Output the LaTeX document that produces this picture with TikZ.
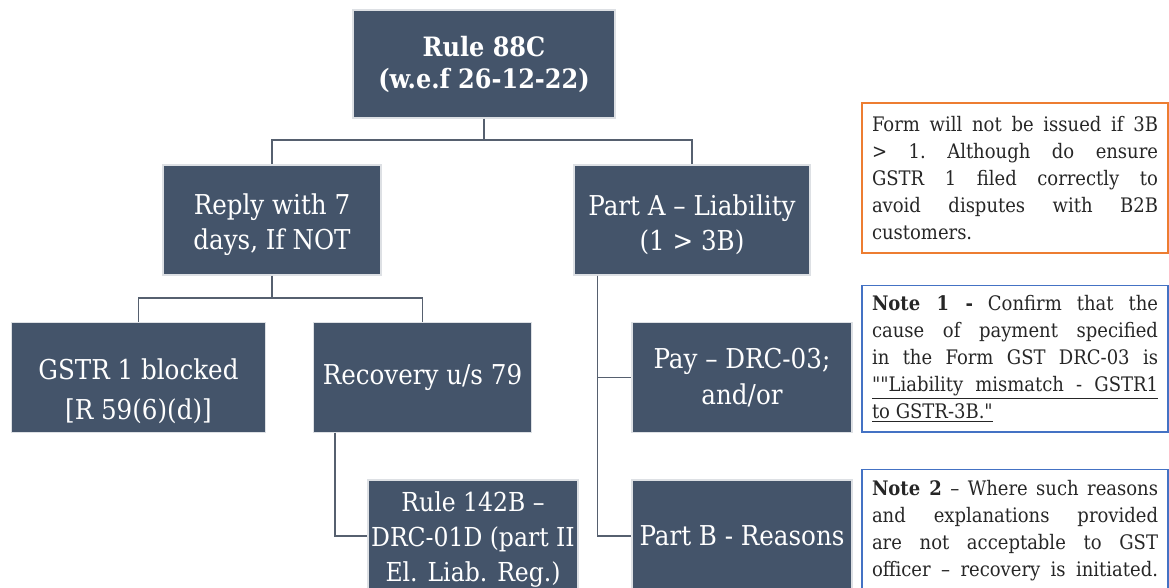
\documentclass[tikz,border=0pt]{standalone}
\usepackage{fontspec}
\setmainfont{DejaVu Serif Condensed}[Ligatures=TeXOff]
\definecolor{boxfill}{HTML}{44546A}
\definecolor{lineclr}{HTML}{56606F}
\definecolor{orangeb}{HTML}{ED7D31}
\definecolor{blueb}{HTML}{4472C4}
\definecolor{noteText}{HTML}{262626}
\tikzset{
  box/.style={rectangle, fill=boxfill, draw=white!82!boxfill, line width=0.8pt,
    text=white, align=center, inner sep=0pt,
    font=\fontsize{20.5}{26.5}\selectfont},
  boxtext/.style={text=white, align=center, inner sep=0pt,
    font=\fontsize{20.5}{30}\selectfont},
  conn/.style={draw=lineclr, line width=1.3pt},
  note/.style={rectangle, line width=1pt, text=noteText, text width=214.5pt,
    align=justify, inner xsep=7.5pt, inner ysep=0pt,
    font=\fontsize{15}{20.3}\selectfont\frenchspacing},
}
\begin{document}
\begin{tikzpicture}[x=0.75pt,y=-0.75pt]
\useasboundingbox (0,0) rectangle (1169,587);
% boxes
\node[box, minimum width=196.5pt, minimum height=81pt, font=\fontsize{20}{24}\selectfont\bfseries] (root) at (484,64) {Rule 88C\\(w.e.f 26-12-22)};
\node[box, minimum width=163.5pt, minimum height=82.5pt] (reply) at (272,220) {};
\node[boxtext, font=\fontsize{20.5}{26.5}\selectfont] (replyt) at ([yshift=-3.5pt]reply.center) {Reply with 7\\days, If NOT};
\node[box, minimum width=177pt, minimum height=82.5pt] (parta) at (692,220) {};
\node[boxtext, font=\fontsize{20.5}{26.5}\selectfont] (partat) at ([yshift=-3.5pt]parta.center) {Part A – Liability\\(1 > 3B)};
\node[box, minimum width=191pt, minimum height=82pt] (gstr) at (138.5,377.5) {};
\node[boxtext] (gstrt) at ([yshift=-10pt]gstr.center) {GSTR 1 blocked\\{}[R 59(6)(d)]};
\node[box, minimum width=164pt, minimum height=82pt] (recov) at (422.5,377.5) {Recovery u/s 79};
\node[box, minimum width=165pt, minimum height=82pt] (pay) at (742,377.5) {Pay – DRC-03;\\and/or};
\node[box, minimum width=157.5pt, minimum height=84pt] (rule) at (473,536) {};
\node[boxtext, font=\fontsize{19.6}{26}\selectfont] (rulet) at ([yshift=-2.5pt]rule.center) {Rule 142B –\\DRC-01D (part II\\El. Liab. Reg.)};
\node[box, minimum width=165pt, minimum height=84pt] (partb) at (742,536) {Part B - Reasons};
% notes
\node[note, draw=orangeb, minimum height=112.5pt] (n0) at (1015,178) {Form will not be issued if 3B\linebreak
> 1. Although do ensure\linebreak
GSTR 1 filed correctly to\linebreak
avoid disputes with B2B\linebreak
customers.};
\node[note, draw=blueb, minimum height=110pt] (n1) at (1015,358.5) {\textbf{Note 1 -} Confirm that the\linebreak
cause of payment specified\linebreak
in the Form GST DRC-03 is\linebreak
\underline{\makebox[214.5pt][s]{""Liability mismatch - GSTR1}}\linebreak
\underline{to GSTR-3B."}};
\node[note, draw=blueb, minimum height=92pt] (n2) at (1015,531) {\textbf{Note 2} – Where such reasons\linebreak
and explanations provided\linebreak
are not acceptable to GST\linebreak
\makebox[214.5pt][s]{officer – recovery is initiated.}};
% connectors
\coordinate (j0) at (484,140);
\draw[conn] (root.south) -- (j0);
\draw[conn] (j0) -| (reply.north);
\draw[conn] (j0) -| (parta.north);
\coordinate (j1) at (272,298);
\draw[conn] (reply.south) -- (j1);
\draw[conn] (j1) -| (gstr.north);
\draw[conn] (j1) -| (recov.north);
\draw[conn] ([xshift=16.5pt]recov.south west) |- (rule.west);
\draw[conn] ([xshift=18pt]parta.south west) |- (pay.west);
\draw[conn] ([xshift=18pt]parta.south west) |- (partb.west);
\end{tikzpicture}
\end{document}
